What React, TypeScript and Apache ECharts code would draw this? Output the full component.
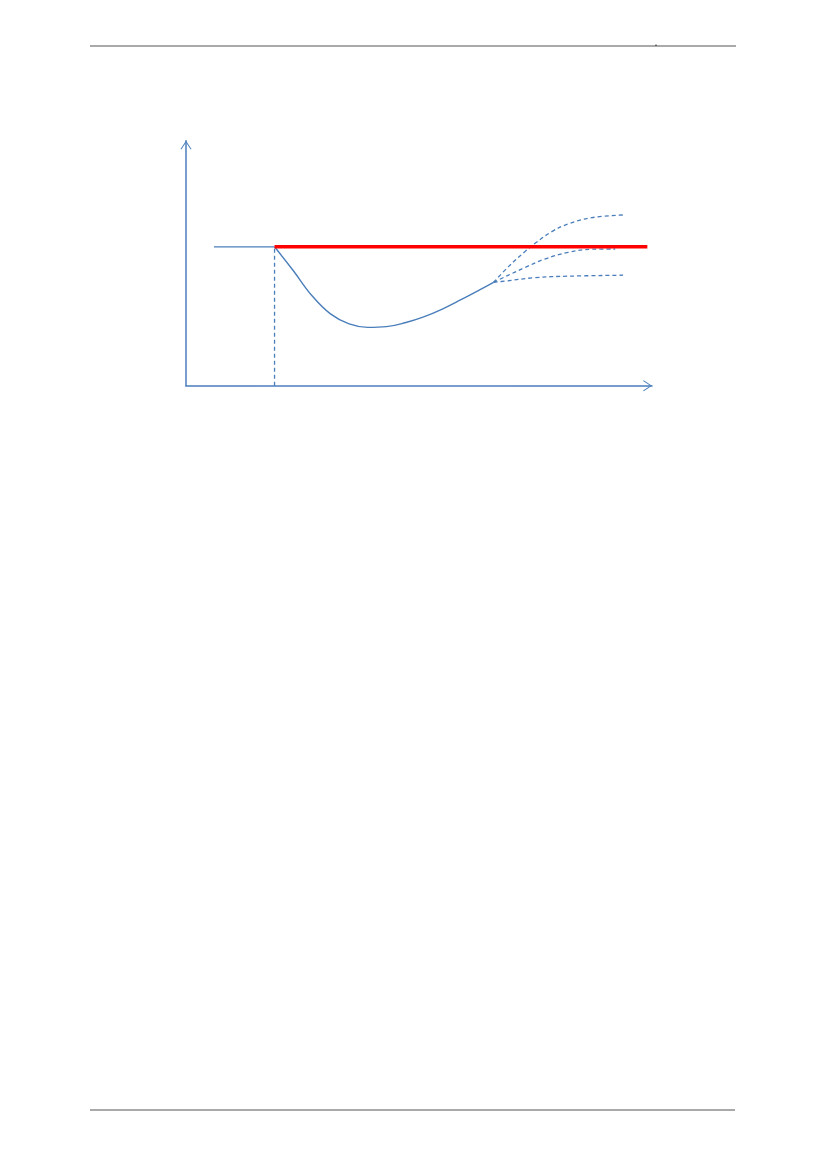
import * as echarts from 'echarts';
import { useEffect, useRef } from 'react';

// level before the shock and the target line
const baseLevel = 56.7;
const flatX = [6, 19];
const targetX = [19, 99];
const shockX = 19;

// recovery curve after the shock
const curveX = [19, 23, 27, 31, 35, 39, 43, 47, 51, 55, 59, 63, 66];
const curveY = [56.7, 47, 36.8, 29.3, 25.2, 23.8, 24.1, 25.7, 28.1, 31.3, 35.1, 39.1, 42.2];

// three possible paths afterwards (dashed)
const upperX = [66, 69.2, 72.7, 74.9, 78.5, 82, 87.1, 94.2];
const upperY = [42.2, 48.6, 54.7, 58.1, 62.9, 66, 68.6, 69.7];
const middleX = [66, 68.5, 72.7, 77, 82, 87.1, 92.1];
const middleY = [42.2, 44.5, 48.2, 51.7, 54.4, 55.7, 55.8];
const lowerX = [66, 68.5, 74.9, 82, 93.8];
const lowerY = [42.2, 42.7, 44.1, 44.7, 45.1];

const blue = '#4a7ebb';
const chevron = 'path://M5.5 0 L11 8.2 L10.2 8.8 L5.5 1.6 L0.8 8.8 L0 8.2 Z';

const zip = (xs: number[], ys: number[]) => xs.map((x, i) => [x, ys[i]]);

export default function App() {
  const container = useRef<HTMLDivElement | null>(null);

  useEffect(() => {
    if (!container.current) return;
    const chart = echarts.init(container.current, undefined, { renderer: 'svg' });

    const axisLine = {
      show: true,
      symbol: ['none', chevron],
      symbolSize: [11, 9],
      symbolOffset: [0, -4.5],
      lineStyle: { color: blue, width: 1.5 },
    };
    const dashed = (name: string, xs: number[], ys: number[]) => ({
      name,
      type: 'line',
      data: zip(xs, ys),
      smooth: 0.4,
      symbol: 'none',
      lineStyle: { color: blue, width: 1.3, type: [4, 3] },
      z: 3,
    });

    chart.setOption({
      animation: false,
      grid: { left: 186, right: 174, top: 140.7, bottom: 783.3 },
      xAxis: {
        type: 'value',
        min: 0,
        max: 100,
        axisLine,
        axisTick: { show: false },
        axisLabel: { show: false },
        splitLine: { show: false },
      },
      yAxis: {
        type: 'value',
        min: 0,
        max: 100,
        axisLine,
        axisTick: { show: false },
        axisLabel: { show: false },
        splitLine: { show: false },
      },
      graphic: [
        // page header / footer rules
        { type: 'line', shape: { x1: 90, y1: 46, x2: 736, y2: 46 }, style: { stroke: '#555', lineWidth: 1.2 } },
        { type: 'line', shape: { x1: 656, y1: 44.5, x2: 656, y2: 46 }, style: { stroke: '#222', lineWidth: 1 } },
        { type: 'line', shape: { x1: 90, y1: 1110, x2: 735, y2: 1110 }, style: { stroke: '#555', lineWidth: 1.2 } },
      ],
      series: [
        {
          name: 'before',
          type: 'line',
          data: flatX.map((x) => [x, baseLevel]),
          symbol: 'none',
          lineStyle: { color: blue, width: 1.3 },
        },
        {
          name: 'shock',
          type: 'line',
          data: [
            [shockX, 0],
            [shockX, baseLevel],
          ],
          symbol: 'none',
          lineStyle: { color: blue, width: 1.3, type: [4, 3] },
        },
        {
          name: 'recovery',
          type: 'line',
          data: zip(curveX, curveY),
          smooth: 0.4,
          symbol: 'none',
          lineStyle: { color: blue, width: 1.4 },
        },
        dashed('upper', upperX, upperY),
        dashed('middle', middleX, middleY),
        dashed('lower', lowerX, lowerY),
        {
          name: 'target',
          type: 'line',
          data: targetX.map((x) => [x, baseLevel]),
          symbol: 'none',
          lineStyle: { color: '#ff0000', width: 3.5 },
          z: 5,
        },
      ],
    } as echarts.EChartsOption);

    return () => chart.dispose();
  }, []);

  return (
    <div
      ref={container}
      style={{ position: 'absolute', left: 0, top: 0, width: 826, height: 1169 }}
    />
  );
}
